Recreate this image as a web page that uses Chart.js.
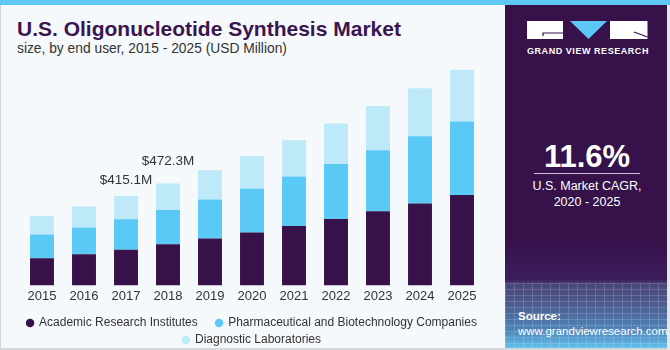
<!DOCTYPE html>
<html>
<head>
<meta charset="utf-8">
<script src="https://cdn.jsdelivr.net/npm/chart.js@4/dist/chart.umd.min.js"></script>
<style>
  html, body { margin:0; padding:0; }
  body { width:670px; height:350px; overflow:hidden; position:relative; background:#f5f9fc; font-family:"Liberation Sans", Arial, sans-serif; }
  .abs { position:absolute; }
  #stripe { left:0; top:0; width:670px; height:5px; background:#5fc8f2; z-index:5; }
  #bl { left:0; top:5px; width:1px; height:345px; background:#d3d7db; z-index:5; }
  #bb { left:0; top:348px; width:670px; height:2px; background:#d6d9dc; z-index:5; }
  #br { left:667px; top:5px; width:3px; height:345px; background:#e3e7ea; z-index:5; }
  #title { left:17px; top:18px; font-size:21px; line-height:21px; font-weight:bold; color:#3b1550; white-space:nowrap; }
  #subtitle { left:17px; top:42px; font-size:13.8px; line-height:14px; color:#333; white-space:nowrap; }
  #chartwrap { left:0; top:50px; width:505px; height:307px; }
  #panel { left:505px; top:5px; width:162px; height:343px; overflow:hidden;
    background:linear-gradient(to bottom, #36114a 0%, #36114a 68%, #3c1d5c 80%, #4a4679 81.5%, #4b5f92 88%, #4f86bb 95%, #63c0ec 100%); }
  #grid { left:0; top:278px; width:162px; height:65px; opacity:0.35;
    background-image:repeating-linear-gradient(to right, rgba(255,255,255,0.45) 0 1px, transparent 1px 9px),
                     repeating-linear-gradient(to bottom, rgba(255,255,255,0.45) 0 1px, transparent 1px 6px); }
  #logo { left:0; top:0; }
  #gvr { left:22px; width:121px; top:41px; text-align:left; color:#fff; font-size:9px; font-weight:bold; letter-spacing:0.55px; white-space:nowrap; }
  #cagr { left:0; width:164px; top:136px; text-align:center; color:#fff; font-size:31px; line-height:31px; font-weight:bold; }
  #rule { left:29px; top:167.5px; width:106px; height:1.5px; background:#cbbfd8; }
  #cagrtxt { left:0; width:164px; top:173px; text-align:center; color:#fff; font-size:12.5px; line-height:16px; }
  #src { left:13px; top:304px; color:#fff; font-size:11.5px; line-height:14.5px; }
  #src b { font-size:11.5px; }
</style>
</head>
<body>
<div id="stripe" class="abs"></div>
<div id="title" class="abs">U.S. Oligonucleotide Synthesis Market</div>
<div id="subtitle" class="abs">size, by end user, 2015 - 2025 (USD Million)</div>
<div id="chartwrap" class="abs"><canvas id="c" width="505" height="306"></canvas></div>
<div id="panel" class="abs">
  <div id="grid" class="abs"></div>
  <svg id="logo" class="abs" width="162" height="40" viewBox="505 0 162 40">
    <rect x="527" y="16" width="36" height="18" fill="#ffffff"/>
    <polyline points="543,31 543,28 563,28" fill="none" stroke="#36114a" stroke-width="1.2"/>
    <polygon points="570,16 607,16 588.5,34" fill="#5bc8f5"/>
    <rect x="610" y="16" width="37.5" height="18" fill="#ffffff"/>
    <polyline points="634,27 647.5,32" fill="none" stroke="#36114a" stroke-width="1.2"/>
  </svg>
  <div id="gvr" class="abs">GRAND VIEW RESEARCH</div>
  <div id="cagr" class="abs">11.6%</div>
  <div id="rule" class="abs"></div>
  <div id="cagrtxt" class="abs">U.S. Market CAGR,<br>2020 - 2025</div>
  <div id="src" class="abs"><b>Source:</b><br>www.grandviewresearch.com</div>
</div>
<div id="bl" class="abs"></div>
<div id="bb" class="abs"></div>
<div id="br" class="abs"></div>
<script>
const years = ['2015','2016','2017','2018','2019','2020','2021','2022','2023','2024','2025'];
const academic = [125.4, 144.0, 165.9, 190.4, 217.0, 244.8, 275.5, 308.0, 343.8, 379.6, 419.5];
const pharma = [110.1, 124.0, 140.8, 159.3, 181.2, 204.4, 229.5, 255.5, 283.4, 312.7, 341.0];
const diagnostic = [86.4, 97.6, 108.3, 122.6, 136.1, 151.5, 168.6, 187.7, 204.4, 221.6, 239.7];
const seriesNames = ['Academic Research Institutes', 'Pharmaceutical and Biotechnology Companies', 'Diagnostic Laboratories'];
const calloutYears = ['2017', '2018'];
const calloutLabels = ['$415.1M', '$472.3M'];

const FONT = '"Liberation Sans", Arial, sans-serif';
const colors = ['#37124a', '#5bc9f6', '#bde9f9'];
const calloutGap = [16, 22];

const calloutPlugin = {
  id: 'callouts',
  afterDatasetsDraw(chart) {
    const ctx = chart.ctx;
    const topMeta = chart.getDatasetMeta(chart.data.datasets.length - 1);
    ctx.save();
    ctx.font = '13.5px ' + FONT;
    ctx.fillStyle = '#333';
    ctx.textAlign = 'center';
    ctx.textBaseline = 'middle';
    calloutYears.forEach((yr, k) => {
      const i = years.indexOf(yr);
      const el = topMeta.data[i];
      ctx.fillText(calloutLabels[k], el.x, el.y - calloutGap[k]);
    });
    ctx.restore();
  }
};

const seriesData = [academic, pharma, diagnostic];
new Chart(document.getElementById('c'), {
  type: 'bar',
  data: {
    labels: years,
    datasets: seriesNames.map((name, k) => ({
      label: name,
      data: seriesData[k],
      backgroundColor: colors[k],
      borderWidth: 0,
      barPercentage: 0.57,
      categoryPercentage: 1.0
    }))
  },
  options: {
    responsive: false,
    animation: false,
    layout: { padding: { left: 21, right: 22, top: 9, bottom: 0 } },
    scales: {
      x: {
        stacked: true,
        grid: { display: false, drawTicks: false },
        border: { display: false },
        ticks: { color: '#333', font: { family: FONT, size: 13 }, padding: 3 },
        afterFit: (s) => { s.height += 5; }
      },
      y: { stacked: true, display: false, min: 0, max: 1050 }
    },
    plugins: {
      tooltip: { enabled: false },
      legend: {
        position: 'bottom',
        labels: {
          usePointStyle: true,
          pointStyle: 'circle',
          boxWidth: 6,
          boxHeight: 6,
          padding: 5,
          color: '#333',
          font: { family: FONT, size: 12 },
          generateLabels: (chart) => {
            const items = Chart.defaults.plugins.legend.labels.generateLabels(chart);
            items[0].text = items[0].text + '    ';
            return items;
          }
        }
      }
    }
  },
  plugins: [calloutPlugin]
});
</script>
</body>
</html>
